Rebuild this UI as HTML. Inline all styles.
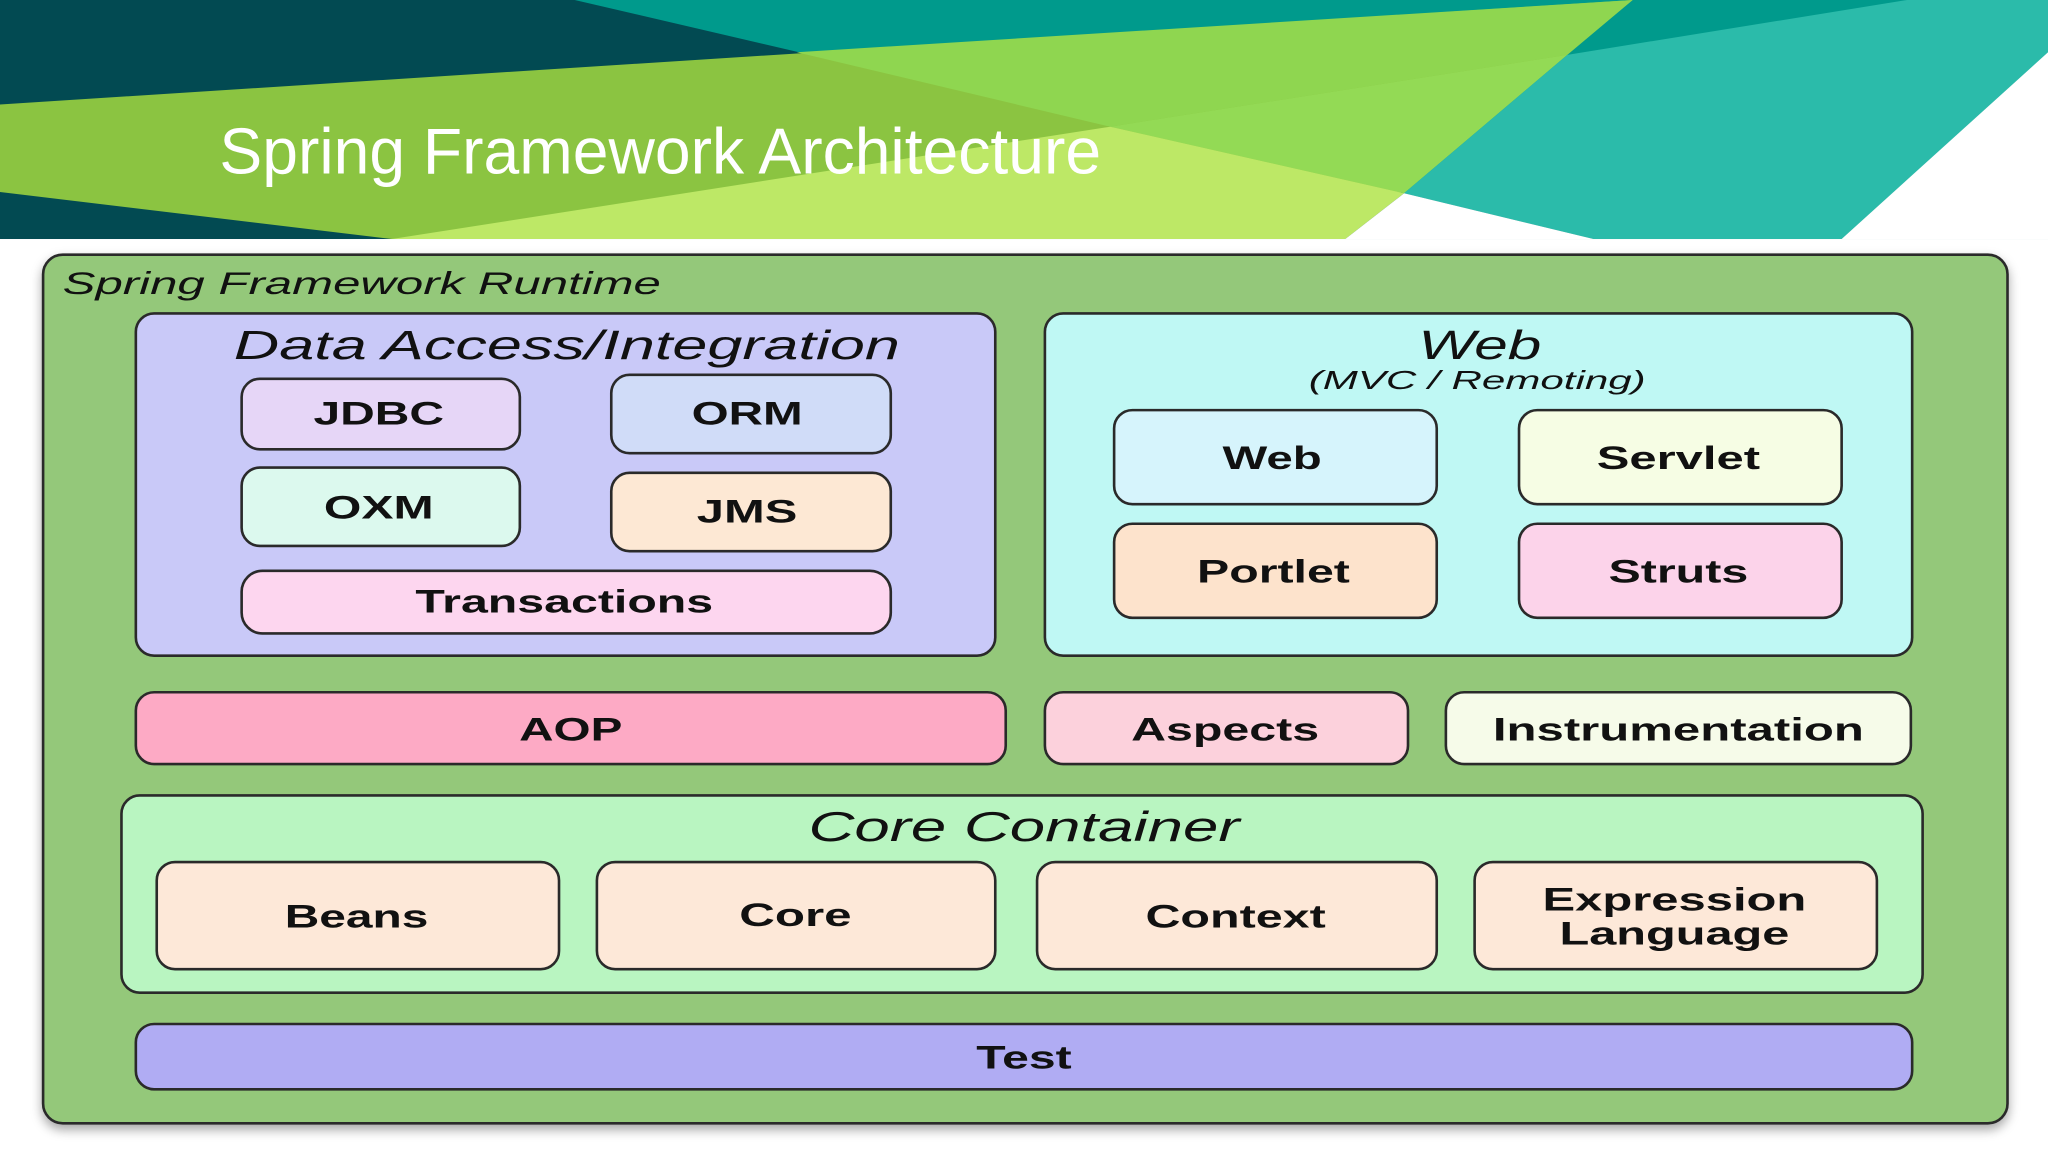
<!DOCTYPE html>
<html><head><meta charset="utf-8"><style>
html,body{margin:0;padding:0;background:#fff;}
svg{display:block;}
.b{font-family:"Liberation Sans",sans-serif;font-weight:bold;font-size:25px;fill:#111;text-anchor:middle;}
.i{font-family:"Liberation Sans",sans-serif;font-style:italic;fill:#111;text-anchor:middle;}
.bx{stroke:#2a2a2a;stroke-width:2;}
</style></head><body>
<svg width="2048" height="1152" viewBox="0 0 1568 882" preserveAspectRatio="none" xmlns="http://www.w3.org/2000/svg">
<defs><filter id="sh" x="-5%" y="-5%" width="110%" height="112%"><feDropShadow dx="0" dy="4" stdDeviation="4" flood-color="#000" flood-opacity="0.35"/></filter></defs>
<rect x="0" y="0" width="1568" height="882" fill="#fff"/>
<!-- header -->
<rect x="0" y="0" width="1568" height="183" fill="#024a52"/>
<polygon points="440,0 1568,0 1568,183 1220,183 1075,148" fill="#009a8c"/>
<polygon points="0,80 1250,0 1030,183 300,183 0,147" fill="#8bc441"/>
<polygon points="610,40 1250,0 1200,42 850,97" fill="#8fd650"/>
<polygon points="850,97 1200,42 1075,148" fill="#93da55"/>
<polygon points="300,183 850,97 1075,148 1030,183" fill="#bde866"/>
<polygon points="1200,42 1460,0 1568,0 1568,40 1410,183 1220,183 1075,148" fill="#2bbbaa"/>
<polygon points="1568,40 1568,183 1410,183" fill="#fff"/>
<polygon points="1030,183 1075,148 1220,183" fill="#fff"/>
<text x="168" y="133" font-family="'Liberation Sans Narrow','Liberation Sans',sans-serif" font-size="50" fill="#fff" textLength="675" lengthAdjust="spacingAndGlyphs">Spring Framework Architecture</text>
<!-- outer -->
<rect x="33" y="195" width="1504" height="665" rx="15" fill="#94c87a" class="bx" filter="url(#sh)"/>
<text x="48" y="225" class="i" style="text-anchor:start" font-size="24" textLength="458" lengthAdjust="spacingAndGlyphs">Spring Framework Runtime</text>
<!-- data access -->
<rect x="104" y="240" width="658" height="262" rx="14" fill="#c9c9f8" class="bx"/>
<text x="434" y="275" class="i" font-size="31" textLength="510" lengthAdjust="spacingAndGlyphs">Data Access/Integration</text>
<rect x="185" y="290" width="213" height="54" rx="14" fill="#e6d6f7" class="bx"/><text x="290" y="325" class="b" textLength="100" lengthAdjust="spacingAndGlyphs">JDBC</text>
<rect x="468" y="287" width="214" height="60" rx="14" fill="#d0dcf8" class="bx"/><text x="572" y="325" class="b" textLength="85" lengthAdjust="spacingAndGlyphs">ORM</text>
<rect x="185" y="358" width="213" height="60" rx="14" fill="#dcf9ee" class="bx"/><text x="290" y="397" class="b" textLength="84" lengthAdjust="spacingAndGlyphs">OXM</text>
<rect x="468" y="362" width="214" height="60" rx="14" fill="#fde8d4" class="bx"/><text x="572" y="400" class="b" textLength="77" lengthAdjust="spacingAndGlyphs">JMS</text>
<rect x="185" y="437" width="497" height="48" rx="16" fill="#fdd6ef" class="bx"/><text x="432" y="469" class="b" textLength="228" lengthAdjust="spacingAndGlyphs">Transactions</text>
<!-- web -->
<rect x="800" y="240" width="664" height="262" rx="14" fill="#bff8f4" class="bx"/>
<text x="1133" y="275" class="i" font-size="31" textLength="94" lengthAdjust="spacingAndGlyphs">Web</text>
<text x="1131" y="298" class="i" font-size="20" textLength="258" lengthAdjust="spacingAndGlyphs">(MVC / Remoting)</text>
<rect x="853" y="314" width="247" height="72" rx="14" fill="#d6f4fc" class="bx"/><text x="974" y="359" class="b" textLength="76" lengthAdjust="spacingAndGlyphs">Web</text>
<rect x="1163" y="314" width="247" height="72" rx="14" fill="#f6fde4" class="bx"/><text x="1285" y="359" class="b" textLength="125" lengthAdjust="spacingAndGlyphs">Servlet</text>
<rect x="853" y="401" width="247" height="72" rx="14" fill="#fde3cc" class="bx"/><text x="975" y="446" class="b" textLength="117" lengthAdjust="spacingAndGlyphs">Portlet</text>
<rect x="1163" y="401" width="247" height="72" rx="14" fill="#fcd3ea" class="bx"/><text x="1285" y="446" class="b" textLength="107" lengthAdjust="spacingAndGlyphs">Struts</text>
<!-- aop row -->
<rect x="104" y="530" width="666" height="55" rx="14" fill="#fdaac5" class="bx"/><text x="437" y="567" class="b" textLength="79" lengthAdjust="spacingAndGlyphs">AOP</text>
<rect x="800" y="530" width="278" height="55" rx="14" fill="#fcd1dc" class="bx"/><text x="938" y="567" class="b" textLength="144" lengthAdjust="spacingAndGlyphs">Aspects</text>
<rect x="1107" y="530" width="356" height="55" rx="14" fill="#f6fbe9" class="bx"/><text x="1285" y="567" class="b" textLength="284" lengthAdjust="spacingAndGlyphs">Instrumentation</text>
<!-- core -->
<rect x="93" y="609" width="1379" height="151" rx="14" fill="#b9f5c1" class="bx"/>
<text x="784" y="644" class="i" font-size="32" textLength="330" lengthAdjust="spacingAndGlyphs">Core Container</text>
<rect x="120" y="660" width="308" height="82" rx="14" fill="#fde8d8" class="bx"/><text x="273" y="710" class="b" textLength="110" lengthAdjust="spacingAndGlyphs">Beans</text>
<rect x="457" y="660" width="305" height="82" rx="14" fill="#fde8d8" class="bx"/><text x="609" y="709" class="b" textLength="86" lengthAdjust="spacingAndGlyphs">Core</text>
<rect x="794" y="660" width="306" height="82" rx="14" fill="#fde8d8" class="bx"/><text x="946" y="710" class="b" textLength="138" lengthAdjust="spacingAndGlyphs">Context</text>
<rect x="1129" y="660" width="308" height="82" rx="14" fill="#fde8d8" class="bx"/>
<text x="1282" y="697" class="b" textLength="202" lengthAdjust="spacingAndGlyphs">Expression</text><text x="1282" y="723" class="b" textLength="176" lengthAdjust="spacingAndGlyphs">Language</text>
<!-- test -->
<rect x="104" y="784" width="1360" height="50" rx="14" fill="#b0acf3" class="bx"/><text x="784" y="818" class="b" textLength="73" lengthAdjust="spacingAndGlyphs">Test</text>
</svg>
</body></html>
